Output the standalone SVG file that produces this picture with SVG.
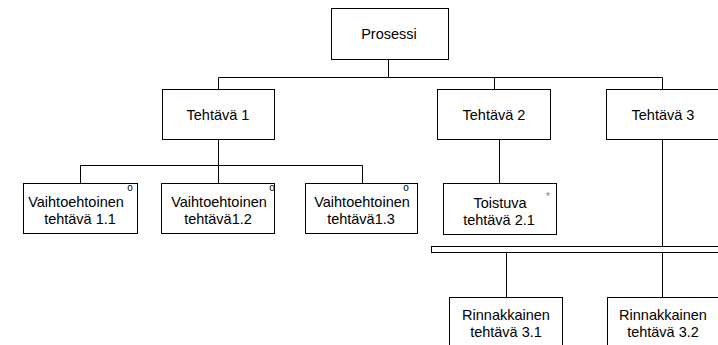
<svg xmlns="http://www.w3.org/2000/svg" width="718" height="345" viewBox="0 0 718 345">
<style>
  .box { fill: #fff; stroke: #000; stroke-width: 1; }
  .lbl { font-family: "Liberation Sans", Arial, sans-serif; font-size: 14.5px; fill: #000; text-anchor: middle; }
  .sup { font-family: "Liberation Sans", Arial, sans-serif; font-size: 10px; fill: #000; text-anchor: middle; }
  .star { font-family: "Liberation Sans", Arial, sans-serif; font-size: 11px; fill: #888; text-anchor: middle; }
  .conn line { stroke: #000; stroke-width: 1; fill: none; }
</style>
<rect width="718" height="345" fill="#fff"/>
<g id="connectors" class="conn">
  <line x1="388.5" y1="59" x2="388.5" y2="77.5"/>
  <line x1="218.5" y1="77.5" x2="662.5" y2="77.5"/>
  <line x1="218.5" y1="77.5" x2="218.5" y2="89"/>
  <line x1="494.5" y1="77.5" x2="494.5" y2="89"/>
  <line x1="662.5" y1="77.5" x2="662.5" y2="89"/>
  <line x1="218.5" y1="139" x2="218.5" y2="165.5"/>
  <line x1="80.5" y1="165.5" x2="362.5" y2="165.5"/>
  <line x1="80.5" y1="165.5" x2="80.5" y2="183"/>
  <line x1="218.5" y1="165.5" x2="218.5" y2="183"/>
  <line x1="362.5" y1="165.5" x2="362.5" y2="183"/>
  <line x1="499.5" y1="139" x2="499.5" y2="183"/>
  <line x1="662.5" y1="139" x2="662.5" y2="246"/>
  <line x1="506.5" y1="252" x2="506.5" y2="297"/>
  <line x1="662.5" y1="252" x2="662.5" y2="297"/>
</g>
<g id="prosessi">
  <rect class="box" x="331.5" y="8.5" width="117" height="51"/>
  <text class="lbl" x="389" y="39">Prosessi</text>
</g>
<g id="tehtava1">
  <rect class="box" x="162.5" y="89.5" width="112" height="50"/>
  <text class="lbl" x="218" y="120">Tehtävä 1</text>
</g>
<g id="tehtava2">
  <rect class="box" x="437.5" y="89.5" width="113" height="50"/>
  <text class="lbl" x="494" y="120">Tehtävä 2</text>
</g>
<g id="tehtava3">
  <rect class="box" x="606.5" y="89.5" width="130" height="50"/>
  <text class="lbl" x="663" y="120">Tehtävä 3</text>
</g>
<g id="vaihtoehtoinen11">
  <rect class="box" x="23.5" y="183.5" width="114" height="50"/>
  <text class="lbl" x="76" y="207">Vaihtoehtoinen</text>
  <text class="lbl" x="80" y="224">tehtävä 1.1</text>
  <text class="sup" x="130" y="191">o</text>
</g>
<g id="vaihtoehtoinen12">
  <rect class="box" x="161.5" y="183.5" width="113" height="50"/>
  <text class="lbl" x="219" y="207">Vaihtoehtoinen</text>
  <text class="lbl" x="218" y="224">tehtävä1.2</text>
  <text class="sup" x="272" y="191">o</text>
</g>
<g id="vaihtoehtoinen13">
  <rect class="box" x="305.5" y="183.5" width="112" height="50"/>
  <text class="lbl" x="362" y="207">Vaihtoehtoinen</text>
  <text class="lbl" x="361" y="224">tehtävä1.3</text>
  <text class="sup" x="406" y="191">o</text>
</g>
<g id="toistuva21">
  <rect class="box" x="443.5" y="183.5" width="113" height="51"/>
  <text class="lbl" x="500" y="208">Toistuva</text>
  <text class="lbl" x="499" y="225">tehtävä 2.1</text>
  <text class="star" x="548" y="200">*</text>
</g>
<g id="rinnakkaisuus">
  <rect class="box" x="431.5" y="246.5" width="300" height="6"/>
</g>
<g id="rinnakkainen31">
  <rect class="box" x="449.5" y="297.5" width="113" height="60"/>
  <text class="lbl" x="506" y="320">Rinnakkainen</text>
  <text class="lbl" x="506" y="337">tehtävä 3.1</text>
</g>
<g id="rinnakkainen32">
  <rect class="box" x="607.5" y="297.5" width="130" height="60"/>
  <text class="lbl" x="663" y="320">Rinnakkainen</text>
  <text class="lbl" x="663" y="337">tehtävä 3.2</text>
</g>
</svg>
